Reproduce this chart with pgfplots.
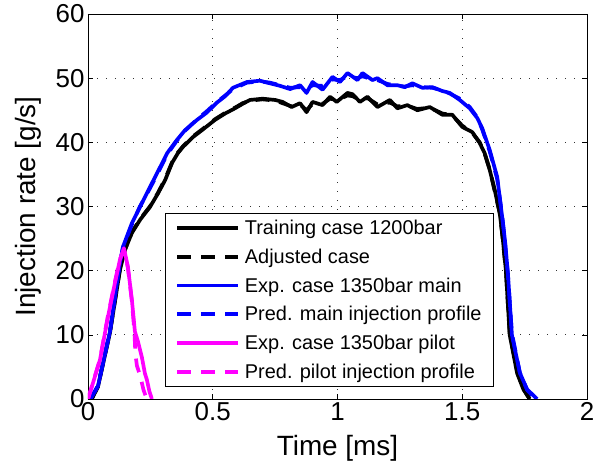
\documentclass[border=0pt]{standalone}
\usepackage{pgfplots}
\pgfplotsset{compat=1.18}
\usepackage{fontspec}
\setmainfont{Liberation Sans}
\definecolor{mblue}{RGB}{0,0,255}
\definecolor{mmag}{RGB}{255,0,255}
\begin{document}
\begin{tikzpicture}
\begin{axis}[
  scale only axis,
  width=499bp, height=385bp,
  xmin=0, xmax=2, ymin=0, ymax=60,
  xtick={0,0.5,1,1.5,2},
  ytick={0,10,20,30,40,50,60},
  xticklabels={0,0.5,1,1.5,2},
  /pgf/number format/assume math mode=true,
  tick label style={font=\fontsize{26}{30}\selectfont, black},
  label style={font=\fontsize{28}{32}\selectfont},
  xlabel={Time [ms]},
  ylabel={Injection rate [g/s]},
  xlabel style={at={(axis description cs:0.5,0)}, anchor=center, yshift=-49bp},
  ylabel style={at={(axis description cs:0,0.5)}, anchor=center, yshift=60bp},
  tick align=inside,
  major tick length=5bp,
  tick style={black, line width=0.6pt},
  xtick pos=both, ytick pos=both,
  axis line style={line width=0.8pt},
  grid=major,
  major grid style={black!80, line width=0.7pt, dash pattern=on 1.2bp off 7.8bp},
  legend style={at={(rel axis cs:0.154,0.031)}, anchor=south west,
     font=\fontsize{20}{24}\selectfont, draw=black, line width=0.8pt, fill=white,
     inner xsep=10bp, inner ysep=5bp, row sep=8.8bp, cells={anchor=west}},
  legend cell align=left,
  legend image code/.code={\draw[#1] (2bp,0bp) -- (63bp,0bp); \path (66bp,0bp);},
  every axis plot/.append style={line width=3.7pt, line join=round},
]
\addplot[black, solid] coordinates {
(0.015,0)(0.04,1.9)(0.088,10.3)(0.128,20.1)(0.148,23.2)(0.176,25.9)(0.21,28)(0.248,29.9)(0.28,32)(0.309,34.1)(0.337,36.8)(0.36,38.3)(0.381,39.3)(0.42,40.8)(0.457,41.9)(0.509,43.5)(0.55,44.5)(0.589,45.3)(0.62,46.0)(0.649,46.6)(0.70,46.8)(0.75,46.6)(0.78,46.3)(0.816,45.5)(0.85,46.1)(0.876,44.7)(0.90,46.3)(0.94,45.8)(0.97,47.1)(0.997,46.3)(1.04,47.7)(1.06,47.5)(1.09,46.3)(1.12,47.1)(1.16,45.5)(1.21,46.6)(1.24,45.3)(1.28,45.8)(1.32,45.0)(1.37,45.5)(1.42,44.3)(1.46,44.3)(1.50,42.4)(1.54,41.6)(1.57,39.9)(1.59,38.3)(1.61,35.7)(1.63,32.6)(1.65,29.0)(1.66,25.9)(1.675,20)(1.69,10)(1.72,4)(1.745,1.5)(1.77,0)};
\addlegendentry{Training case 1200bar}
\addplot[black, dash pattern=on 14bp off 10bp] coordinates {
(0.015,0)(0.04,2.0)(0.088,10.4)(0.128,20.2)(0.148,23.3)(0.176,26.0)(0.21,28.1)(0.248,30.0)(0.28,32.1)(0.309,34.3)(0.337,36.9)(0.36,38.4)(0.381,39.4)(0.42,40.9)(0.457,42.0)(0.509,43.6)(0.55,44.6)(0.589,45.4)(0.62,46.1)(0.649,46.5)(0.70,46.7)(0.75,46.5)(0.78,46.1)(0.816,45.6)(0.85,45.9)(0.876,45.0)(0.90,46.0)(0.94,46.0)(0.97,46.8)(1.0,46.6)(1.04,47.3)(1.06,47.2)(1.09,46.6)(1.12,46.9)(1.16,45.9)(1.21,46.2)(1.24,45.6)(1.28,45.7)(1.32,45.2)(1.37,45.4)(1.42,44.5)(1.46,44.2)(1.50,42.6)(1.54,41.5)(1.57,40.0)(1.59,38.2)(1.61,35.8)(1.63,32.4)(1.65,29.0)(1.66,25.7)(1.675,20)(1.69,10.3)(1.72,4.3)(1.745,1.6)(1.77,0)};
\addlegendentry{Adjusted case}
\addplot[mblue, solid] coordinates {
(0.01,0)(0.04,2)(0.088,10.5)(0.125,20.5)(0.14,23.7)(0.176,27.4)(0.208,29.9)(0.248,33.0)(0.277,35.2)(0.317,38.3)(0.357,40.4)(0.389,41.9)(0.437,43.5)(0.475,44.6)(0.517,46.2)(0.55,47.2)(0.581,48.5)(0.637,49.4)(0.689,49.6)(0.729,49.2)(0.77,48.8)(0.81,48.3)(0.85,48.9)(0.876,47.7)(0.90,49.4)(0.94,48.2)(0.98,50.2)(1.01,49.4)(1.04,50.8)(1.08,49.7)(1.10,50.8)(1.14,49.7)(1.16,50.0)(1.20,48.9)(1.24,48.9)(1.27,48.6)(1.30,49.2)(1.34,48.5)(1.38,48.6)(1.42,48.0)(1.45,47.7)(1.49,46.6)(1.53,45.3)(1.56,43.8)(1.58,42.2)(1.61,38.8)(1.64,34.6)(1.66,28.4)(1.671,24.8)(1.683,19.6)(1.699,10.0)(1.731,4.05)(1.76,1.5)(1.80,0)};
\addlegendentry{Exp. case 1350bar main}
\addplot[mblue, dash pattern=on 14bp off 10bp] coordinates {
(0.01,0)(0.04,2.1)(0.088,10.6)(0.125,20.4)(0.14,23.6)(0.176,27.2)(0.208,30.0)(0.248,32.8)(0.277,35.0)(0.317,38.1)(0.357,40.3)(0.389,41.8)(0.437,43.6)(0.475,44.8)(0.517,46.3)(0.55,47.3)(0.581,48.3)(0.637,49.3)(0.689,49.5)(0.729,49.3)(0.77,48.9)(0.81,48.5)(0.85,48.6)(0.876,48.3)(0.90,48.9)(0.94,48.8)(0.98,49.8)(1.01,49.7)(1.04,50.3)(1.08,50.0)(1.10,50.3)(1.14,49.8)(1.16,49.7)(1.20,49.1)(1.24,48.8)(1.27,48.7)(1.30,48.9)(1.34,48.6)(1.38,48.5)(1.42,48.1)(1.45,47.6)(1.49,46.8)(1.53,45.5)(1.56,43.9)(1.58,42.0)(1.61,38.6)(1.64,34.3)(1.66,28.6)(1.671,24.6)(1.683,19.4)(1.699,10.2)(1.731,4.1)(1.76,1.4)(1.795,0)};
\addlegendentry{Pred. main injection profile}
\addplot[mmag, solid] coordinates {
(0,0)(0.02,2.5)(0.048,6.1)(0.08,12.8)(0.108,18.1)(0.128,21.7)(0.144,23.5)(0.16,20.6)(0.176,15.4)(0.188,10.5)(0.2,9.0)(0.216,6.5)(0.228,4.0)(0.236,3.0)(0.246,1.2)(0.256,0)};
\addlegendentry{Exp. case 1350bar pilot}
\addplot[mmag, dash pattern=on 14bp off 10bp] coordinates {
(0,0)(0.02,2.6)(0.048,6.2)(0.08,13)(0.108,18.3)(0.128,21.8)(0.144,23.3)(0.16,20.4)(0.176,15.2)(0.186,10.5)(0.19,7)(0.196,5.2)(0.21,3.5)(0.222,1.5)(0.235,0)};
\addlegendentry{Pred. pilot injection profile}
\end{axis}
\pgfresetboundingbox
\path ([shift={(-88bp,-74bp)}]current axis.south west) rectangle ([shift={(8bp,14bp)}]current axis.north east);
\end{tikzpicture}
\end{document}
